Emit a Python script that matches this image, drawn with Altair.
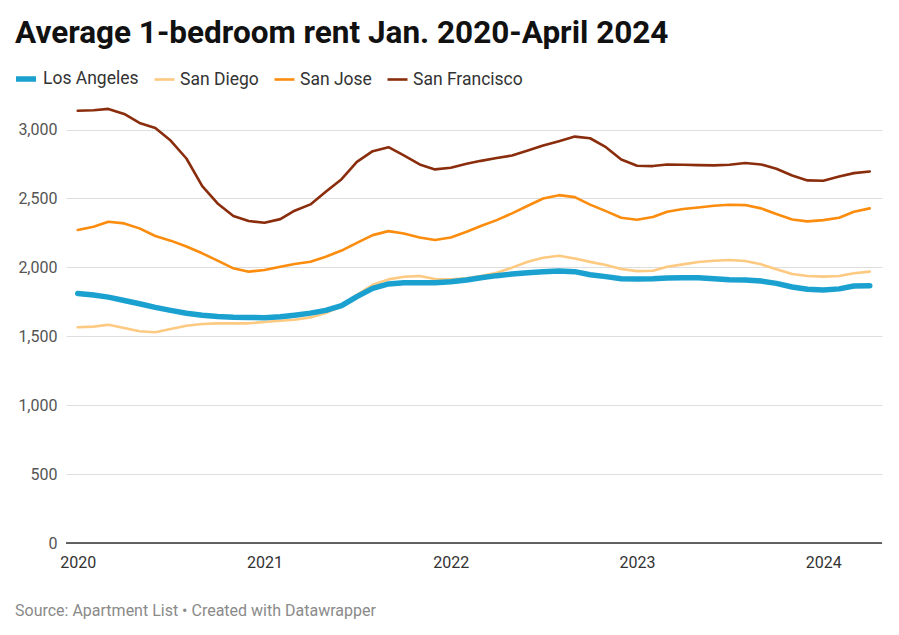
import altair as alt
import pandas as pd

cities = ["Los Angeles", "San Diego", "San Jose", "San Francisco"]
colors = ["#1ba1cf", "#fec981", "#fb8c0e", "#8a2d0c"]
widths = [5.5, 2.6, 2.6, 2.6]

months = pd.date_range("2020-01-01", "2024-04-01", freq="MS").strftime("%Y-%m-%d").tolist()

los_angeles = [1811, 1799, 1784, 1760, 1736, 1710, 1688, 1667, 1652, 1643, 1638, 1636,
               1635, 1641, 1653, 1668, 1688, 1722, 1788, 1848, 1880, 1889, 1889, 1889,
               1896, 1908, 1925, 1940, 1952, 1961, 1969, 1973, 1969, 1947, 1933, 1918,
               1916, 1918, 1923, 1925, 1925, 1918, 1911, 1908, 1901, 1884, 1858, 1841,
               1836, 1844, 1865, 1867]
san_diego = [1565, 1570, 1584, 1560, 1536, 1529, 1553, 1577, 1589, 1594, 1594, 1594,
             1604, 1613, 1620, 1637, 1669, 1720, 1801, 1874, 1913, 1932, 1937, 1916,
             1913, 1920, 1937, 1961, 1998, 2041, 2070, 2084, 2065, 2040, 2017, 1988,
             1973, 1976, 2005, 2022, 2039, 2048, 2053, 2046, 2022, 1986, 1952, 1937,
             1933, 1937, 1957, 1969]
san_jose = [2271, 2295, 2331, 2319, 2283, 2228, 2194, 2151, 2102, 2049, 1993, 1969,
            1981, 2005, 2024, 2041, 2077, 2122, 2178, 2234, 2263, 2246, 2217, 2198,
            2217, 2258, 2300, 2343, 2392, 2447, 2500, 2524, 2510, 2455, 2408, 2360,
            2346, 2365, 2404, 2423, 2435, 2447, 2454, 2452, 2428, 2387, 2348, 2334,
            2343, 2360, 2404, 2428]
san_francisco = [3137, 3140, 3150, 3113, 3048, 3012, 2920, 2790, 2590, 2464, 2372, 2336,
                 2324, 2350, 2411, 2457, 2548, 2640, 2765, 2843, 2872, 2812, 2747, 2711,
                 2723, 2752, 2773, 2793, 2812, 2848, 2884, 2916, 2949, 2937, 2872, 2783,
                 2737, 2735, 2747, 2745, 2742, 2740, 2745, 2757, 2747, 2716, 2667, 2631,
                 2629, 2660, 2684, 2696]

series = {"Los Angeles": los_angeles, "San Diego": san_diego,
          "San Jose": san_jose, "San Francisco": san_francisco}

rows = []
for city, vals in series.items():
    for m, v in zip(months, vals):
        rows.append({"month": m, "city": city, "rent": v})
df = pd.DataFrame(rows)

FONT = "Roboto"

x_enc = alt.X("month:T", title=None,
              scale=alt.Scale(domain=["2019-12-09", "2024-04-25"]),
              axis=alt.Axis(format="%Y", tickCount={"interval": "year", "step": 1},
                            grid=False, domain=False, ticks=False,
                            labelFontSize=16, labelColor="#333", labelPadding=11,
                            labelFont=FONT))
y_enc = alt.Y("rent:Q", title=None,
              scale=alt.Scale(domain=[0, 3200], nice=False),
              axis=alt.Axis(values=[0, 500, 1000, 1500, 2000, 2500, 3000], format=",.0f",
                            domain=False, ticks=False, grid=True,
                            gridColor="#dedede", gridWidth=1.2,
                            labelFontSize=16, labelColor="#555", labelPadding=9,
                            labelFont=FONT))

legend = alt.Legend(title=None, orient="none", legendX=-53, legendY=-36,
                    direction="horizontal", symbolType="stroke", symbolSize=400,
                    labelFontSize=17.5, labelColor="#333", labelFont=FONT,
                    labelOffset=4, columnPadding=10)

color_enc = alt.Color("city:N", scale=alt.Scale(domain=cities, range=colors), legend=legend)
sw_enc = alt.StrokeWidth("city:N", scale=alt.Scale(type="ordinal", domain=cities, range=widths),
                         legend=legend)

base = alt.Chart(df)
layers = []
for city in ["San Francisco", "San Jose", "San Diego", "Los Angeles"]:
    layers.append(
        base.transform_filter(alt.datum.city == city)
        .mark_line(strokeJoin="round", strokeCap="round")
        .encode(x=x_enc, y=y_enc, color=color_enc, strokeWidth=sw_enc)
    )

zero = alt.Chart(pd.DataFrame({"rent": [0]})).mark_rule(color="#333", strokeWidth=1.6).encode(
    y=alt.Y("rent:Q"))

source = alt.Chart(pd.DataFrame({"t": ["Source: Apartment List \u2022 Created with Datawrapper"]})).mark_text(
    align="left", baseline="middle", fontSize=16, color="#8a8a8a", font=FONT
).encode(text="t:N", x=alt.value(-51), y=alt.value(509))

chart = alt.layer(zero, *layers, source).properties(
    width=816, height=441,
    title=alt.Title("Average 1-bedroom rent Jan. 2020-April 2024", anchor="start",
                    frame="group", dx=-51, offset=17, fontSize=31.5, font=FONT,
                    fontWeight="bold", color="#111"),
    autosize=alt.AutoSizeParams(type="none"),
    padding={"left": 58, "top": 94, "right": 9, "bottom": 84},
).configure(background="white", view=alt.ViewConfig(stroke=None))

chart.save("out.html", embed_options={"renderer": "svg", "actions": False})
